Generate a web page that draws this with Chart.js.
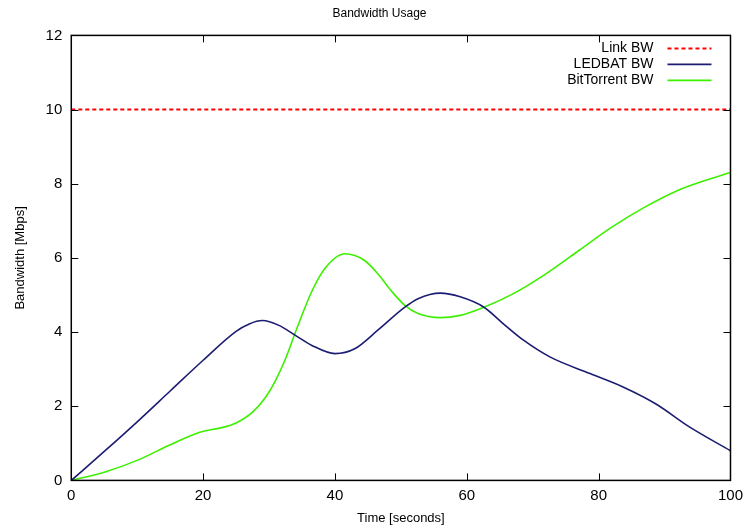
<!DOCTYPE html>
<html>
<head>
<meta charset="utf-8">
<script src="https://cdn.jsdelivr.net/npm/chart.js@4/dist/chart.umd.min.js"></script>
<style>
  body { margin: 0; background: #fff; }
  #wrap { width: 749px; height: 526px; }
</style>
</head>
<body>
<div id="wrap"><canvas id="chart" width="749" height="526"></canvas></div>
<script>
// values (time in seconds, bandwidth in Mbps)
const linkTime = [0, 100];
const linkBw = [10, 10];

const ledbatTime = [0, 5, 10, 15, 20, 25, 27, 29, 31.5, 34, 36.5, 40, 43, 46.5, 50.6, 52.6, 56, 59, 62.6, 65.5, 68.6, 72.6, 78.7, 83.7, 88.7, 93.7, 100];
const ledbatBw = [0, 0.78, 1.58, 2.41, 3.24, 4.02, 4.22, 4.31, 4.18, 3.91, 3.64, 3.42, 3.55, 4.05, 4.67, 4.90, 5.05, 4.95, 4.67, 4.23, 3.78, 3.33, 2.88, 2.52, 2.06, 1.45, 0.80];

const btTime = [0, 5, 10, 15, 19.5, 22.5, 25, 27.5, 29.5, 31, 32.5, 34.5, 36.5, 38.5, 41.5, 44.5, 46.5, 48.5, 50.6, 52.6, 56, 59, 62.6, 67, 72, 77, 82, 87, 92, 96, 100];
const btBw = [0, 0.22, 0.54, 0.96, 1.30, 1.41, 1.55, 1.84, 2.25, 2.70, 3.28, 4.23, 5.10, 5.72, 6.11, 5.93, 5.57, 5.12, 4.72, 4.50, 4.39, 4.45, 4.67, 5.03, 5.57, 6.20, 6.83, 7.37, 7.82, 8.08, 8.30];

const xTicks = [0, 20, 40, 60, 80, 100];
const yTicks = [0, 2, 4, 6, 8, 10, 12];

const FONT = 'Liberation Sans, Arial, sans-serif';

function pts(xs, ys) {
    return xs.map((x, i) => ({ x: x, y: ys[i] }));
}

// gnuplot-like frame, inward ticks on all four sides, legend at top right
const framePlugin = {
    id: 'frame',
    afterDraw(chart) {
        const ctx = chart.ctx;
        const a = chart.chartArea;
        const xs = chart.scales.x, ys = chart.scales.y;
        const len = 7;
        ctx.save();
        ctx.strokeStyle = '#000';
        ctx.lineWidth = 1;
        ctx.beginPath();
        xTicks.forEach(v => {
            const px = Math.round(xs.getPixelForValue(v)) + 0.5;
            ctx.moveTo(px, a.bottom); ctx.lineTo(px, a.bottom - len);
            ctx.moveTo(px, a.top); ctx.lineTo(px, a.top + len);
        });
        yTicks.forEach(v => {
            const py = Math.round(ys.getPixelForValue(v)) + 0.5;
            ctx.moveTo(a.left, py); ctx.lineTo(a.left + len, py);
            ctx.moveTo(a.right, py); ctx.lineTo(a.right - len, py);
        });
        ctx.stroke();
        ctx.lineWidth = 1.5;
        ctx.strokeRect(a.left, a.top, a.right - a.left, a.bottom - a.top);

        // legend
        ctx.font = '14px ' + FONT;
        ctx.textAlign = 'right';
        ctx.textBaseline = 'middle';
        chart.data.datasets.forEach((ds, i) => {
            const y = a.top + 13 + i * 16;
            ctx.fillStyle = '#000';
            ctx.fillText(ds.label, a.right - 77, y);
            ctx.strokeStyle = ds.borderColor;
            ctx.lineWidth = ds.borderWidth;
            ctx.setLineDash(ds.borderDash || []);
            ctx.beginPath();
            ctx.moveTo(a.right - 63, y);
            ctx.lineTo(a.right - 19, y);
            ctx.stroke();
            ctx.setLineDash([]);
        });
        ctx.restore();
    }
};

new Chart(document.getElementById('chart'), {
    type: 'line',
    data: {
        datasets: [
            {
                label: 'Link BW',
                data: pts(linkTime, linkBw),
                borderColor: '#ff0000',
                borderWidth: 2,
                borderDash: [4, 3],
                pointRadius: 0,
                tension: 0
            },
            {
                label: 'LEDBAT BW',
                data: pts(ledbatTime, ledbatBw),
                borderColor: '#1c1c72',
                borderWidth: 1.6,
                pointRadius: 0,
                cubicInterpolationMode: 'monotone'
            },
            {
                label: 'BitTorrent BW',
                data: pts(btTime, btBw),
                borderColor: '#3cf000',
                borderWidth: 1.6,
                pointRadius: 0,
                cubicInterpolationMode: 'monotone'
            }
        ]
    },
    options: {
        responsive: false,
        animation: false,
        layout: { padding: { top: 0, right: 3, bottom: 0, left: 13 } },
        plugins: {
            legend: { display: false },
            tooltip: { enabled: false },
            title: {
                display: true,
                text: 'Bandwidth Usage',
                color: '#000',
                font: { family: FONT, size: 12, weight: 'normal' },
                padding: { top: 6, bottom: 15 }
            }
        },
        scales: {
            x: {
                type: 'linear',
                min: 0,
                max: 100,
                afterBuildTicks: (s) => { s.ticks = xTicks.map(v => ({ value: v })); },
                grid: { display: false, drawTicks: false },
                border: { display: false },
                ticks: { color: '#000', font: { family: FONT, size: 15 }, padding: 6, maxRotation: 0 },
                title: {
                    display: true,
                    text: 'Time [seconds]',
                    color: '#000',
                    font: { family: FONT, size: 13 },
                    padding: { top: 0, bottom: 0 }
                }
            },
            y: {
                min: 0,
                max: 12,
                afterBuildTicks: (s) => { s.ticks = yTicks.map(v => ({ value: v })); },
                grid: { display: false, drawTicks: false },
                border: { display: false },
                ticks: { color: '#000', font: { family: FONT, size: 15 }, padding: 9 },
                title: {
                    display: true,
                    text: 'Bandwidth [Mbps]',
                    color: '#000',
                    font: { family: FONT, size: 13 },
                    padding: { top: 0, bottom: 8 }
                }
            }
        }
    },
    plugins: [framePlugin]
});
</script>
</body>
</html>
